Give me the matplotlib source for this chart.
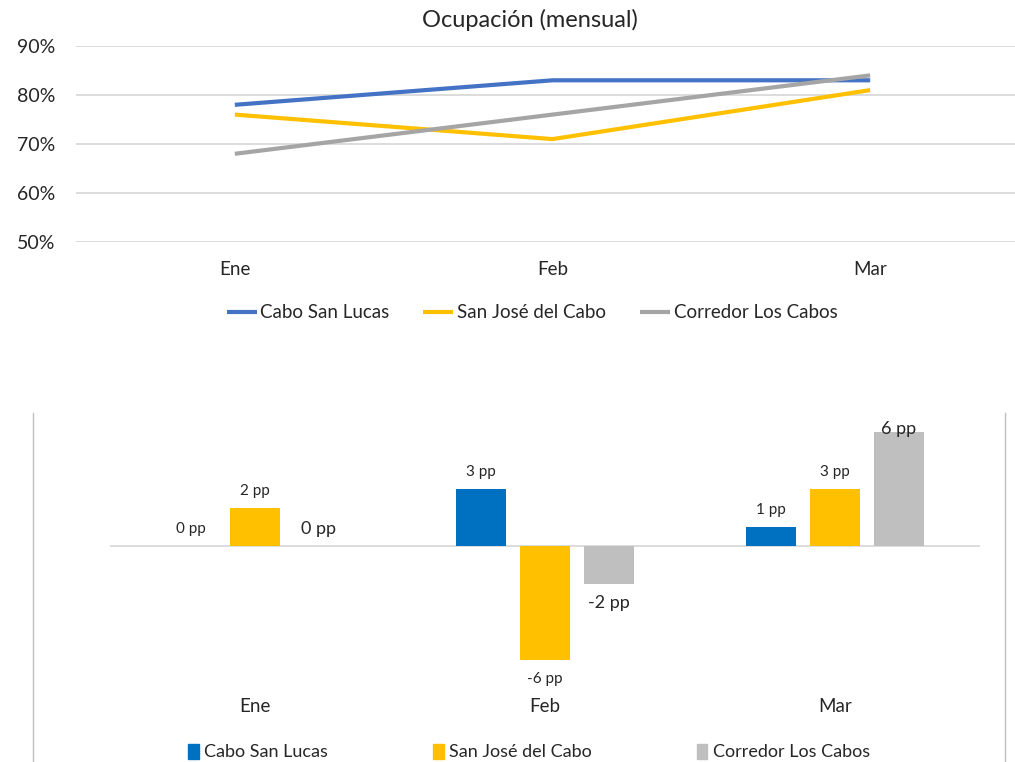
import matplotlib.pyplot as plt
from matplotlib.lines import Line2D
from matplotlib.patches import Patch
import numpy as np

plt.rcParams['font.family'] = ['Lato', 'DejaVu Sans']

# datos
meses = ["Ene", "Feb", "Mar"]
series = ["Cabo San Lucas", "San José del Cabo", "Corredor Los Cabos"]
ocup_csl = [78, 83, 83]
ocup_sjc = [76, 71, 81]
ocup_clc = [68, 76, 84]
var_csl = [0, 3, 1]
var_sjc = [2, -6, 3]
var_clc = [0, -2, 6]
y_ticks = [50, 60, 70, 80, 90]

colores_linea = ["#4472C4", "#FFC000", "#A5A5A5"]
colores_barra = ["#0070C0", "#FFC000", "#BFBFBF"]
gris = "#D9D9D9"

W, H = 1015, 762
fig = plt.figure(figsize=(W / 100, H / 100), dpi=100)

def px(x0, y0, x1, y1):
    return [x0 / W, 1 - y1 / H, (x1 - x0) / W, (y1 - y0) / H]

# --- grafica de lineas ---
ax1 = fig.add_axes(px(76, 46, 1029, 242))
x = np.arange(len(meses))
for vals, nombre, c in zip([ocup_csl, ocup_sjc, ocup_clc], series, colores_linea):
    ax1.plot(x, vals, color=c, lw=3, label=nombre, solid_capstyle="butt", zorder=3)
ax1.set_xlim(-0.5, 2.5)
ax1.set_ylim(50, 90)
ax1.set_yticks(y_ticks)
ax1.set_yticklabels([f"{v}%" for v in y_ticks], fontsize=14, color="#262626")
ax1.set_xticks(x)
ax1.set_xticklabels(meses, fontsize=13.5, color="#262626")
ax1.tick_params(length=0)
ax1.tick_params(axis="x", pad=14)
ax1.tick_params(axis="y", pad=15)
ax1.grid(axis="y", color=gris, lw=1.3)
ax1.set_axisbelow(True)
for s in ax1.spines.values():
    s.set_visible(False)
fig.text(530 / W, 1 - 20 / H, "Ocupación (mensual)", ha="center", va="center",
         fontsize=17, color="#262626")
fig.legend(*ax1.get_legend_handles_labels(), loc="center", ncol=3,
           bbox_to_anchor=(532 / W, 1 - 313 / H), frameon=False, fontsize=13.5,
           handlelength=1.6, handletextpad=0.2, columnspacing=1.8,
           labelcolor="#262626")

# --- grafica de barras ---
ax2 = fig.add_axes(px(110, 394, 980, 698))
ancho = 0.172
desp = 0.22
for i, (vals, nombre, c) in enumerate(zip([var_csl, var_sjc, var_clc], series, colores_barra)):
    pos = x + (i - 1) * desp
    ax2.bar(pos, vals, width=ancho, color=c, label=nombre, zorder=2)
    fs = 13 if i == 2 else 11
    for p, v in zip(pos, vals):
        off = -19 if v < 0 else 17
        if v >= 6:
            off = 3
        ax2.annotate(f"{v} pp", (p, v), xytext=(0, off * 0.72), textcoords="offset points",
                     ha="center", va="center", fontsize=fs, color="#262626", zorder=4)
ax2.axhline(0, color=gris, lw=1.3, zorder=1)
ax2.set_xlim(-0.5, 2.5)
ax2.set_ylim(-8, 8)
ax2.set_yticks([])
ax2.set_xticks(x)
ax2.set_xticklabels(meses, fontsize=13.5, color="#262626")
ax2.tick_params(length=0, pad=0)
for s in ax2.spines.values():
    s.set_visible(False)

handles = [Patch(color=c) for c in colores_barra]
fig.legend(handles, series, loc="center", ncol=3,
           bbox_to_anchor=(529 / W, 1 - 752 / H), frameon=False, fontsize=13,
           handlelength=0.6, handleheight=0.9, handletextpad=0.3, columnspacing=5.8,
           labelcolor="#262626")

# bordes del recuadro inferior
for xb in (33, 1005):
    fig.add_artist(Line2D([xb / W, xb / W], [1 - 413 / H, 0], color="#BFBFBF", lw=1))

plt.savefig("out.png", dpi=100)
